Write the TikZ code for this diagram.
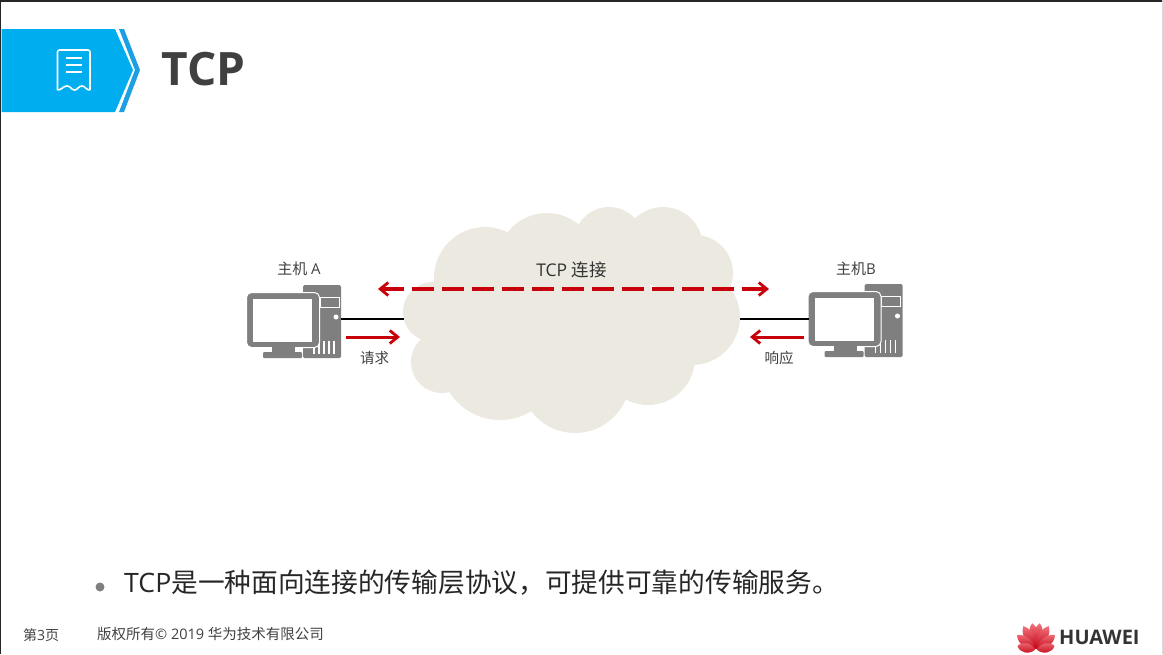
\documentclass[tikz,border=0pt]{standalone}
\usepackage{fontspec}
\setmainfont{Open Sans}
\newfontfamily\cjk{Noto Sans CJK SC}
\usetikzlibrary{arrows.meta}
\newcommand{\zh}[1]{{\cjk #1}}
\newcommand{\fs}[1]{\fontsize{#1}{#1}\selectfont}
\definecolor{bannerBlue}{HTML}{00AEEF}
\definecolor{chevronBlue}{HTML}{1C9FE3}
\definecolor{cloudGrey}{HTML}{ECEAE0}
\definecolor{hostGrey}{HTML}{7F7F7F}
\definecolor{textGrey}{HTML}{404040}
\definecolor{arrowRed}{HTML}{C8000A}
\definecolor{logoRed}{HTML}{E60012}
\definecolor{logoDark}{HTML}{C00010}
\begin{document}
\begin{tikzpicture}[x=1pt, y=-1pt,
    cloudPart/.style={circle, fill=cloudGrey, inner sep=0pt},
    labelStyle/.style={inner sep=0pt, text=textGrey, font=\fs{15}},
    linkStyle/.style={draw=black, line width=2.8pt},
    redArrow/.style={draw=arrowRed, line width=3pt, -{Straight Barb[length=8pt, width=13pt, line width=2.8pt]}},
    redDash/.style={draw=arrowRed, line width=3.2pt, dash pattern=on 22pt off 8pt, {Straight Barb[length=8pt, width=13pt, line width=2.8pt]}-{Straight Barb[length=8pt, width=13pt, line width=2.8pt]}},
    petal/.style={top color=logoRed!55!white, bottom color=logoDark, draw=none},
    hostPic/.pic={
        \fill[hostGrey, rounded corners=1.5pt] (0,0) rectangle (38,73);
        \draw[white, line width=1pt] (17,12) rectangle (36,22);
        \fill[white] (33,32) circle (2.5);
        \foreach \vx in {11,16,21,26,31}
            \draw[white, line width=1.3pt] (\vx,56) -- (\vx,69);
        \fill[hostGrey, draw=white, line width=1pt, rounded corners=5pt] (-56.5,7.5) rectangle (16.5,62.5);
        \fill[white] (-50,14) rectangle (9,57);
        \fill[hostGrey] (-31,62) rectangle (-8,67);
        \fill[hostGrey, rounded corners=1pt] (-40,67) rectangle (-1,73);
        \coordinate (-right) at (38,34);
        \coordinate (-left) at (-56,34);
    }]
    \useasboundingbox (0,0) rectangle (1163,654);

    \fill[black!85] (0,0) rectangle (1163,1.5);
    \fill[black!85] (0,0) rectangle (1,654);
    \fill[black!15] (1162,0) rectangle (1163,654);

    \fill[bannerBlue] (1.5,29) -- (115,29) -- (133,70) -- (115,112) -- (1.5,112) -- cycle;
    \fill[chevronBlue] (119,29) -- (124,29) -- (140,70) -- (124,112) -- (119,112) -- (135,70) -- cycle;
    \draw[white, line width=1.6pt, line join=round, rounded corners=2pt] (57.5,90) -- (57.5,50) -- (90,50) -- (90,90);
    \draw[white, line width=1.6pt, line join=round] (57.5,90) .. controls (62,90) and (63,86) .. (67,86) .. controls (71,86) and (71,90) .. (74.5,90) .. controls (78,90) and (78,86) .. (82,86) .. controls (85,86) and (86,90) .. (90,90);
    \foreach \ly in {58,65,72}
        \draw[white, line width=1.6pt] (66,\ly) -- (82,\ly);
    \node[inner sep=0pt, text=textGrey, font=\fs{46}\bfseries] (title) at (203.5,69) {TCP};

    \node[cloudPart, minimum size=102pt] (cloud_0) at (485,278) {};
    \node[cloudPart, minimum size=100pt] (cloud_1) at (547,263) {};
    \node[cloudPart, minimum size=70pt]  (cloud_2) at (609,242) {};
    \node[cloudPart, minimum size=80pt]  (cloud_3) at (663,247) {};
    \node[cloudPart, minimum size=76pt]  (cloud_4) at (695,273) {};
    \node[cloudPart, minimum size=96pt]  (cloud_5) at (692,317) {};
    \node[cloudPart, minimum size=94pt]  (cloud_6) at (648,358) {};
    \node[cloudPart, minimum size=110pt] (cloud_7) at (575,378) {};
    \node[cloudPart, minimum size=120pt] (cloud_8) at (500,360) {};
    \node[cloudPart, minimum size=62pt]  (cloud_9) at (442,362) {};
    \node[cloudPart, minimum size=60pt]  (cloud_10) at (433,312) {};
    \node[cloudPart, minimum size=170pt] (cloud_11) at (570,315) {};
    \coordinate (cloud_L) at (404,319);
    \coordinate (cloud_R) at (740,319);

    \pic (hostA) at (303,285) {hostPic};
    \pic (hostB) at (864.5,284) {hostPic};

    \draw[linkStyle] (hostA-right |- cloud_L) -- (cloud_L);
    \draw[linkStyle] (cloud_R) -- (hostB-left |- cloud_R);

    \node[labelStyle] (labelA) at (299,269) {\zh{主机} A};
    \node[labelStyle] (labelB) at (856,269) {\zh{主机}B};
    \node[labelStyle, text=black!80, font=\fs{17.5}] (labelTCP) at (571.5,270) {TCP \zh{连接}};
    \node[labelStyle, font=\fs{14.5}] (labelReq) at (374.5,358) {\zh{请求}};
    \node[labelStyle, font=\fs{14.5}] (labelRes) at (779,358) {\zh{响应}};

    \coordinate (dash_L) at (378,289);
    \coordinate (dash_R) at (769,289);
    \draw[redDash] (dash_L) -- (dash_R);
    \coordinate (req_S) at (346,337);
    \coordinate (req_E) at (400,337);
    \coordinate (res_S) at (804,337);
    \coordinate (res_E) at (750,337);
    \draw[redArrow] (req_S) -- (req_E);
    \draw[redArrow] (res_S) -- (res_E);

    \fill[hostGrey] (100,587) circle (4.5);
    \node[inner sep=0pt, anchor=west, text=black!85, font=\fs{26.7}] (bulletText) at (124,583) {TCP\zh{是一种面向连接的传输层协议，可提供可靠的传输服务。}};

    \node[labelStyle, anchor=west, font=\fs{14}] (pageNo) at (23,635) {\zh{第}3\zh{页}};
    \node[labelStyle, anchor=west, font=\fs{14.5}] (copyright) at (97,634.5) {\zh{版权所有}© 2019 \zh{华为技术有限公司}};

    \foreach \pa/\pl in {8/27,28/27,52/24,78/19,-8/27,-28/27,-52/24,-78/19}
        \path[petal, shift={(1036,650)}, rotate=\pa] (0,-1) .. controls (-6.5,-0.33*\pl) and (-6,-0.8*\pl) .. (0,-\pl) .. controls (6,-0.8*\pl) and (6.5,-0.33*\pl) .. (0,-1) -- cycle;
    \node[inner sep=0pt, anchor=west, text=black!80, font=\fs{20}\bfseries] (logoText) at (1059,637) {HUAWEI};
\end{tikzpicture}
\end{document}
